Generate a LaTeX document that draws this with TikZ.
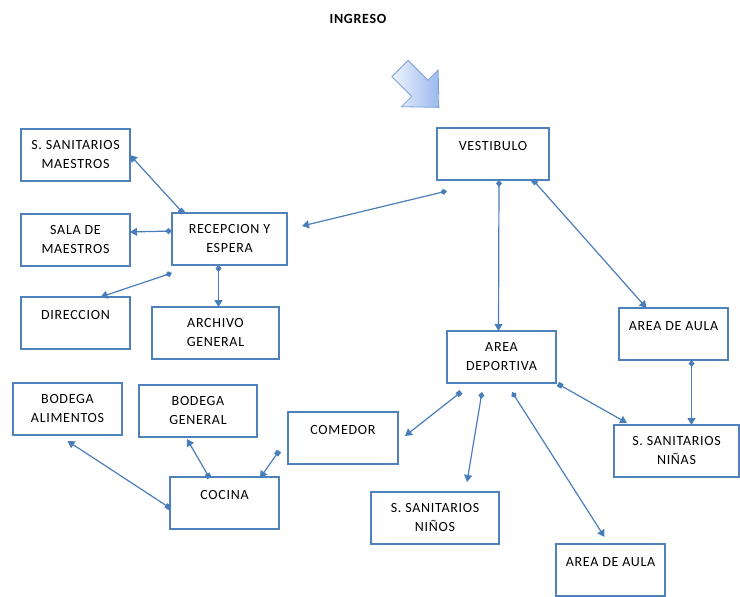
\documentclass[tikz,border=0pt]{standalone}
\usepackage{fontspec}
\setmainfont{Carlito}[LetterSpace=5]
\usepackage{xcolor}
\usepackage{tikz}
\usetikzlibrary{arrows.meta}

\definecolor{boxblue}{HTML}{4F81BD}
\definecolor{lineblue}{HTML}{4A7EBB}
\definecolor{arrowlight}{HTML}{EEF3FD}
\definecolor{arrowdark}{HTML}{9BB9EE}
\definecolor{arrowedge}{HTML}{7C9FD6}

\begin{document}
\begin{tikzpicture}[x=1pt,y=-1pt]
% 1 = 1px, y grows downwards
    \def\BOXW{110pt} %default width of boxes
    \def\TOPLINE{22pt} %baseline below the top edge
    \def\BOTTOM{30pt} %rest of the 52pt box

    \tikzset{
      room/.style={draw=boxblue, line width=1.2pt, inner sep=0pt, outer sep=0pt,
        anchor=north west, align=center, minimum width=#1,
        text height=\TOPLINE, text depth=\BOTTOM,
        font=\fontsize{14}{18.5}\selectfont},
      room/.default=\BOXW,
      % baseline of a two line box is its last line
      tworow/.style={text height=39pt, text depth=13pt},
      link/.style={draw=lineblue, line width=1.2pt},
      sqlink/.style={link,
        {Square[length=5pt,width=5pt]}-{Triangle[length=7pt,width=8pt]}},
      dialink/.style={link,
        {Diamond[length=7pt,width=6pt]}-{Triangle[length=7pt,width=8pt]}},
    }

    \useasboundingbox (0,0) rectangle (740,597);

    % TITLE AND ENTRANCE ARROW
    \node[font=\fontsize{14}{16}\selectfont\bfseries] (ingreso) at (358,19) {INGRESO};
    \begin{scope}[shift={(400,68.5)}, rotate=-45]
        \draw[arrowedge, line width=0.8pt, left color=arrowlight, right color=arrowdark]
            (0,-11.5) -- (28,-11.5) -- (28,-26) -- (55,0) -- (28,26)
            -- (28,11.5) -- (0,11.5) -- cycle;
    \end{scope}

    % LEFT COLUMN
    \node[room=109pt, tworow] (smaestros) at (21,129) {S. SANITARIOS\\MAESTROS};
    \node[room=109pt, tworow] (sala) at (21,214) {SALA DE\\MAESTROS};
    \node[room=109pt] (direccion) at (21,297) {DIRECCION};
    \node[room=115pt, tworow] (recepcion) at (172,213) {RECEPCION Y\\ESPERA};
    \node[room=127pt, tworow] (archivo) at (152,307) {ARCHIVO\\GENERAL};

    % KITCHEN
    \node[room=109pt, tworow] (alimentos) at (13,383) {BODEGA\\ALIMENTOS};
    \node[room=118pt, tworow] (general) at (139,385) {BODEGA\\GENERAL};
    \node[room] (comedor) at (288,412) {COMEDOR};
    \node[room=109pt] (cocina) at (170,477) {COCINA};

    % RIGHT SIDE
    \node[room=112pt] (vestibulo) at (437,128) {VESTIBULO};
    \node[room=109pt, tworow] (deportiva) at (447,331) {AREA\\DEPORTIVA};
    \node[room=109pt] (aula) at (619,308) {AREA DE AULA};
    \node[room=125pt, tworow] (ninas) at (614,425) {S. SANITARIOS\\NIÑAS};
    \node[room=128pt, tworow] (ninos) at (371,492) {S. SANITARIOS\\NIÑOS};
    \node[room=109pt] (aulab) at (556,544) {AREA DE AULA};

    % FROM RECEPCION
    \draw[sqlink] ([shift={(11,0)}]recepcion.north west) -- (smaestros.east);
    \draw[dialink] ([shift={(0,-8)}]recepcion.west) -- ([shift={(0,-8)}]sala.east);
    \draw[dialink] ([shift={(0,8)}]recepcion.south west) -- ([shift={(25,0)}]direccion.north);
    \draw[dialink] ([shift={(-11,0)}]recepcion.south) -- ([shift={(3,0)}]archivo.north);

    % FROM VESTIBULO
    \draw[dialink] ([shift={(10,11)}]vestibulo.south west) -- ([shift={(15,-13)}]recepcion.east);
    \draw[dialink] ([shift={(6,0)}]vestibulo.south) -- ([shift={(-3,0)}]deportiva.north);
    \draw[sqlink] ([shift={(-16,0)}]vestibulo.south east) -- ([shift={(-27,0)}]aula.north);
    \draw[dialink] ([shift={(18,0)}]aula.south) -- ([shift={(15,0)}]ninas.north);

    % FROM AREA DEPORTIVA
    \draw[sqlink] ([shift={(14,9)}]deportiva.south west) -- ([shift={(7,-2)}]comedor.east);
    \draw[dialink] ([shift={(35,9)}]deportiva.south west) -- ([shift={(32,-10)}]ninos.north);
    \draw[dialink] ([shift={(65,9)}]deportiva.south west) -- ([shift={(-6,-7)}]aulab.north);
    \draw[sqlink] ([shift={(2,1)}]deportiva.south east) -- ([shift={(13,-2)}]ninas.north west);

    % COCINA
    \draw[sqlink] ([shift={(0,5)}]cocina.west) -- ([shift={(0,6)}]alimentos.south);
    \draw[sqlink] ([shift={(-15,1)}]cocina.north) -- ([shift={(-11,2)}]general.south);
    \draw[sqlink] ([shift={(-9,-13)}]comedor.south west) -- ([shift={(-19,1)}]cocina.north east);

\end{tikzpicture}
\end{document}
